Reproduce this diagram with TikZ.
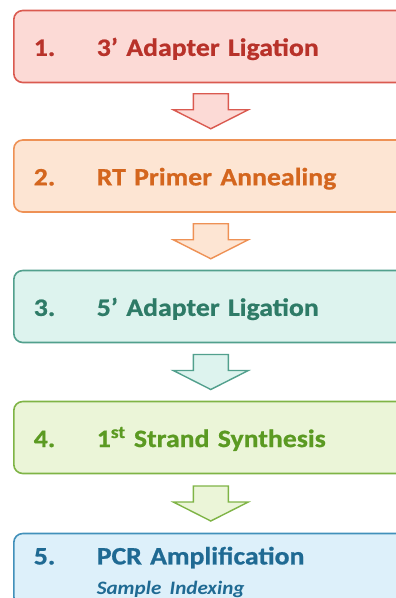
\documentclass[tikz,border=0pt]{standalone}
\usepackage{fontspec}
\setmainfont{Carlito}[FakeStretch=1.11, BoldFeatures={FakeBold=0.8}]
\usetikzlibrary{calc}

% step colours
\definecolor{redline}{HTML}{DA5A50}
\definecolor{redfill}{HTML}{FCDAD6}
\definecolor{redtext}{HTML}{B8322A}
\definecolor{orangeline}{HTML}{EE9155}
\definecolor{orangefill}{HTML}{FDE5D3}
\definecolor{orangetext}{HTML}{D4661E}
\definecolor{tealline}{HTML}{52A08D}
\definecolor{tealfill}{HTML}{DDF3EE}
\definecolor{tealtext}{HTML}{2E7B67}
\definecolor{greenline}{HTML}{7FB446}
\definecolor{greenfill}{HTML}{EBF5D8}
\definecolor{greentext}{HTML}{5B9A22}
\definecolor{blueline}{HTML}{4190BA}
\definecolor{bluefill}{HTML}{DDF0FA}
\definecolor{bluetext}{HTML}{1F6A93}

\begin{document}
\begin{tikzpicture}[x=1pt, y=-1pt,
    stepbox/.style={draw, line width=1.6pt, rounded corners=9pt, anchor=west,
        minimum width=420pt, minimum height=72pt, text width=380pt, inner xsep=19pt,
        align=left, font=\fontsize{25}{30}\selectfont\bfseries},
    flowarrow/.style={line width=1.4pt, line join=miter}]
% Parameters
\def\boxleft{13}
\def\numwidth{63pt}
\useasboundingbox (0,0) rectangle (396,598);

% Step boxes
\foreach \i/\y/\col/\txt in {1/46.5/red/{3’ Adapter Ligation},
                             2/176/orange/{RT Primer Annealing},
                             3/306.5/teal/{5’ Adapter Ligation},
                             4/437.5/green/{1\textsuperscript{st} Strand Synthesis},
                             5/569.5/blue/{PCR Amplification\\\makebox[\numwidth]{}{\fontsize{19}{23}\selectfont\itshape Sample Indexing}}} {
    \node[stepbox, draw=\col line, fill=\col fill, text=\col text] (b\i) at (\boxleft,\y)
        {\rule{0pt}{23pt}\makebox[\numwidth][l]{\i.}\txt};
}

% Block arrows between the steps
\foreach \i/\j/\col in {1/2/red, 2/3/orange, 3/4/teal, 4/5/green} {
    \coordinate (m\i) at ($(b\i.south)!0.5!(b\j.north)+(-13,0)$);
    \draw[flowarrow, draw=\col line, fill=\col fill, shift={(m\i)}]
        (-17.5,-17.5) -- (17.5,-17.5) -- (17.5,-1.5) -- (37.5,-1.5)
        -- (0,17.5) -- (-37.5,-1.5) -- (-17.5,-1.5) -- cycle;
}
\end{tikzpicture}
\end{document}
